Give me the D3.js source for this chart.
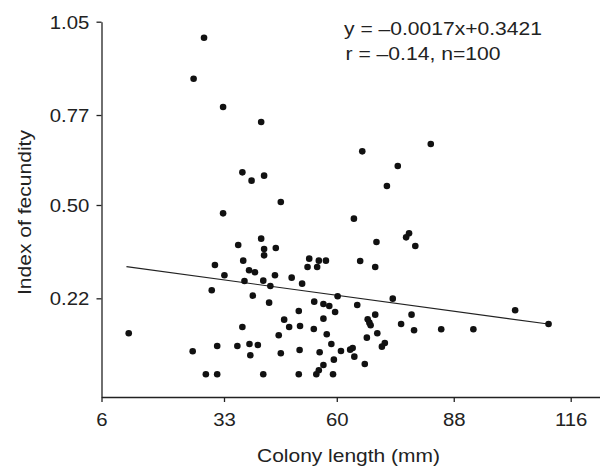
<!DOCTYPE html>
<html>
<head>
<meta charset="utf-8">
<script src="https://d3js.org/d3.v7.min.js"></script>
<style>
body { margin: 0; background: #fff; }
svg { display: block; font-family: "Liberation Sans", Arial, Helvetica, sans-serif; }
.axis path, .axis line { stroke: #222; stroke-width: 1.3; }
.axis text { font-size: 18.5px; fill: #222; }
.dot { fill: #111; }
.fit { stroke: #222; stroke-width: 1.2; fill: none; }
.label { font-size: 18.5px; fill: #222; }
</style>
</head>
<body>
<div id="plot"></div>
<script>
// colony length (mm) and index of fecundity
var colonyLength = [28.6, 26.3, 32.8, 41.9, 37.4, 39.6, 42.6, 46.6, 32.8, 82.5,
  66.1, 74.6, 72.0, 64.1, 77.3, 76.6, 69.5, 78.8, 41.9, 36.4,
  42.6, 45.4, 42.6, 31.0, 37.6, 53.4, 55.7, 57.4, 53.0, 55.3,
  65.6, 69.2, 39.0, 40.4, 33.1, 45.2, 37.9, 42.4, 49.2, 51.7,
  44.1, 30.3, 39.9, 43.8, 54.6, 56.8, 58.2, 60.2, 59.6, 64.9,
  73.4, 50.9, 47.4, 56.8, 48.6, 51.2, 54.5, 67.4, 67.8, 68.1,
  69.2, 75.4, 77.9, 78.5, 85.0, 92.7, 102.7, 110.7, 12.0, 37.4,
  46.1, 57.6, 69.7, 67.2, 26.1, 31.5, 36.2, 39.1, 41.1, 39.3,
  46.6, 51.1, 58.7, 55.9, 61.0, 63.2, 63.8, 64.2, 71.5, 70.8,
  59.3, 56.8, 55.7, 55.1, 66.7, 29.0, 31.5, 42.4, 50.9, 59.1];
var fecundity = [1.002, 0.879, 0.794, 0.749, 0.598, 0.573, 0.588, 0.509, 0.475, 0.683,
  0.661, 0.617, 0.557, 0.459, 0.415, 0.403, 0.389, 0.377, 0.399, 0.380,
  0.368, 0.371, 0.349, 0.320, 0.333, 0.339, 0.333, 0.333, 0.314, 0.314,
  0.332, 0.314, 0.304, 0.298, 0.289, 0.289, 0.272, 0.273, 0.282, 0.264,
  0.257, 0.244, 0.228, 0.207, 0.210, 0.203, 0.197, 0.226, 0.179, 0.200,
  0.219, 0.182, 0.156, 0.159, 0.134, 0.137, 0.128, 0.157, 0.147, 0.139,
  0.171, 0.143, 0.171, 0.124, 0.127, 0.127, 0.184, 0.143, 0.115, 0.134,
  0.109, 0.112, 0.115, 0.102, 0.061, 0.077, 0.077, 0.083, 0.080, 0.049,
  0.055, 0.065, 0.083, 0.058, 0.062, 0.066, 0.071, 0.045, 0.086, 0.075,
  0.036, 0.020, 0.004, -0.008, 0.023, -0.008, -0.008, -0.008, -0.008, -0.008];

// fitted line endpoints
var fitX = [11.5, 110.6];
var fitY = [0.315, 0.143];

var xTicks = [6, 33, 60, 88, 116];
var yTicks = [0.22, 0.50, 0.77, 1.05];
var yTickLabels = ["0.22", "0.50", "0.77", "1.05"];
var statsText = ["y = \u20130.0017x+0.3421", "r = \u20130.14, n=100"];
var xTitle = "Colony length (mm)";
var yTitle = "Index of fecundity";

var width = 600, height = 467;

var svg = d3.select("#plot").append("svg")
  .attr("width", width).attr("height", height);

// the printed axis is not evenly spaced between 6 and 33
var xScale = d3.scaleLinear().domain([6, 33, 116, 123]).range([101.5, 224, 570.7, 600]);
var yScale = d3.scaleLinear().domain([-0.0761, 1.05]).range([397, 21.7]);

var xAxis = d3.axisBottom(xScale).tickValues(xTicks).tickFormat(d3.format("d"))
  .tickSizeInner(5).tickSizeOuter(0);
var gx = svg.append("g").attr("class", "axis")
  .attr("transform", "translate(0," + yScale.range()[0] + ")").call(xAxis);
gx.selectAll("text").attr("y", 29.5).attr("dy", 0).attr("transform", "scale(1.1,1)");

var yAxis = d3.axisLeft(yScale).tickValues(yTicks)
  .tickFormat(function (d, i) { return yTickLabels[i]; })
  .tickSizeInner(5).tickSizeOuter(0);
var gy = svg.append("g").attr("class", "axis")
  .attr("transform", "translate(" + xScale(6) + ",0)").call(yAxis);
gy.selectAll("text").attr("x", -11).attr("dy", "0.36em").attr("transform", "scale(1.1,1)");

// regression line
svg.append("line").attr("class", "fit")
  .attr("x1", xScale(fitX[0])).attr("y1", yScale(fitY[0]))
  .attr("x2", xScale(fitX[1])).attr("y2", yScale(fitY[1]));

svg.selectAll("circle.dot")
  .data(d3.range(colonyLength.length)).enter().append("circle")
  .attr("class", "dot")
  .attr("cx", function (i) { return xScale(colonyLength[i]); })
  .attr("cy", function (i) { return yScale(fecundity[i]); })
  .attr("r", 3.3);

// equation in the top right corner
svg.append("text").attr("class", "label").attr("x", 344).attr("y", 35)
  .attr("textLength", 198).attr("lengthAdjust", "spacingAndGlyphs")
  .text(statsText[0]);
svg.append("text").attr("class", "label").attr("x", 345.5).attr("y", 60)
  .attr("textLength", 155).attr("lengthAdjust", "spacingAndGlyphs")
  .text(statsText[1]);

svg.append("text").attr("class", "label")
  .attr("x", 348.5).attr("y", 462).attr("text-anchor", "middle")
  .attr("textLength", 183).attr("lengthAdjust", "spacingAndGlyphs")
  .text(xTitle);

svg.append("text").attr("class", "label")
  .attr("transform", "translate(31,212.5) rotate(-90)")
  .attr("text-anchor", "middle")
  .attr("textLength", 165).attr("lengthAdjust", "spacingAndGlyphs")
  .text(yTitle);
</script>
</body>
</html>
